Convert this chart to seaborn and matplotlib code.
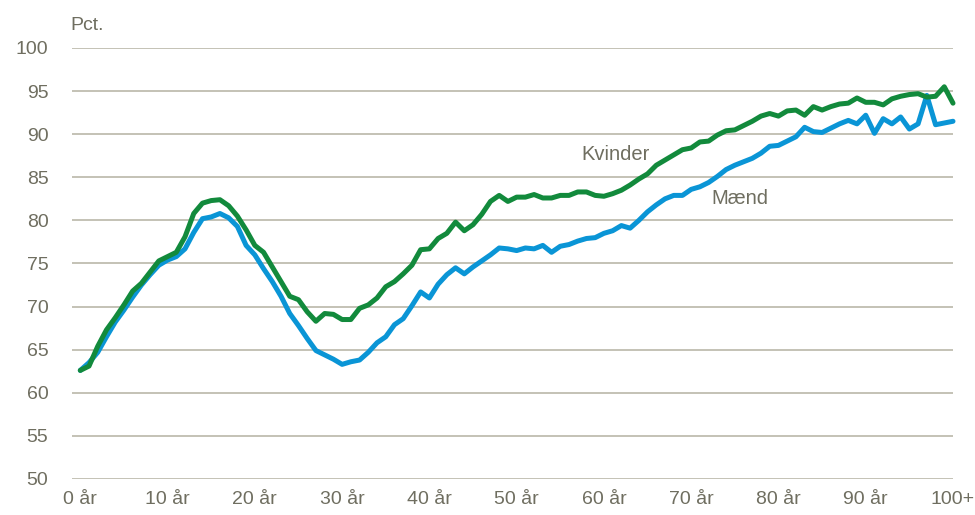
import numpy as np
import pandas as pd
import matplotlib
matplotlib.use("Agg")
import matplotlib.pyplot as plt
import seaborn as sns

# age groups 0..100 (last one is 100+)
ages = list(range(0, 101))
tick_ages = list(range(0, 101, 10))
tick_labels = ["0 år", "10 år", "20 år", "30 år", "40 år", "50 år",
               "60 år", "70 år", "80 år", "90 år", "100+"]

# share in pct.
kvinder = [62.6, 63.1, 65.4, 67.3, 68.7, 70.2, 71.8, 72.7, 74.0, 75.3,
           75.8, 76.3, 78.1, 80.8, 82.0, 82.3, 82.4, 81.7, 80.5, 78.9,
           77.1, 76.3, 74.6, 72.9, 71.2, 70.8, 69.4, 68.3, 69.2, 69.1,
           68.5, 68.5, 69.8, 70.2, 71.0, 72.3, 72.9, 73.8, 74.8, 76.6,
           76.7, 77.9, 78.5, 79.8, 78.8, 79.5, 80.7, 82.2, 82.9, 82.2,
           82.7, 82.7, 83.0, 82.6, 82.6, 82.9, 82.9, 83.3, 83.3, 82.9,
           82.8, 83.1, 83.5, 84.1, 84.8, 85.4, 86.4, 87.0, 87.6, 88.2,
           88.4, 89.1, 89.2, 89.9, 90.4, 90.5, 91.0, 91.5, 92.1, 92.4,
           92.1, 92.7, 92.8, 92.2, 93.2, 92.8, 93.2, 93.5, 93.6, 94.2,
           93.7, 93.7, 93.4, 94.1, 94.4, 94.6, 94.7, 94.3, 94.4, 95.5,
           93.6]
maend = [62.6, 63.5, 64.7, 66.5, 68.2, 69.6, 71.1, 72.5, 73.7, 74.8,
         75.4, 75.8, 76.7, 78.6, 80.2, 80.4, 80.8, 80.3, 79.3, 77.1,
         76.0, 74.4, 72.9, 71.2, 69.2, 67.8, 66.3, 64.9, 64.4, 63.9,
         63.3, 63.6, 63.8, 64.7, 65.8, 66.5, 67.9, 68.6, 70.1, 71.7,
         71.0, 72.6, 73.7, 74.5, 73.8, 74.6, 75.3, 76.0, 76.8, 76.7,
         76.5, 76.8, 76.7, 77.1, 76.3, 77.0, 77.2, 77.6, 77.9, 78.0,
         78.5, 78.8, 79.4, 79.1, 80.0, 81.0, 81.8, 82.5, 82.9, 82.9,
         83.6, 83.9, 84.4, 85.1, 85.9, 86.4, 86.8, 87.2, 87.8, 88.6,
         88.7, 89.2, 89.7, 90.8, 90.3, 90.2, 90.7, 91.2, 91.6, 91.2,
         92.2, 90.1, 91.8, 91.2, 92.0, 90.6, 91.2, 94.5, 91.1, 91.3,
         91.5]

df = pd.concat([
    pd.DataFrame({"alder": ages, "pct": maend, "koen": "Mænd"}),
    pd.DataFrame({"alder": ages, "pct": kvinder, "koen": "Kvinder"}),
])

grey = "#6f6e60"
sns.set_style("white")
plt.rcParams["font.family"] = ["Liberation Sans", "DejaVu Sans"]

fig = plt.figure(figsize=(9.75, 5.15), dpi=100)
ax = fig.add_axes([72 / 975, 1 - 479 / 515, (953 - 72) / 975, (479 - 48) / 515])

sns.lineplot(data=df, x="alder", y="pct", hue="koen",
             palette={"Mænd": "#0a95d6", "Kvinder": "#128a3c"},
             linewidth=3.6, legend=False, ax=ax, clip_on=False, zorder=3)

ax.set_xlim(-0.95, 100)
ax.set_ylim(50, 100)
ax.set_yticks(range(50, 101, 5))
ax.set_xticks(tick_ages)
ax.set_xticklabels(tick_labels)
ax.yaxis.grid(True, color="#c4c2b6", linewidth=1.4)
ax.xaxis.grid(False)
for s in ax.spines.values():
    s.set_visible(False)
ax.tick_params(axis="both", length=0, labelsize=14, labelcolor=grey)
ax.tick_params(axis="y", pad=17)
ax.tick_params(axis="x", pad=9)
ax.set_xlabel("")
ax.set_ylabel("")

ax.text(61.3, 87.6, "Kvinder", fontsize=14.5, color=grey, ha="center", va="center")
ax.text(75.6, 82.5, "Mænd", fontsize=14.5, color=grey, ha="center", va="center")
fig.text(70 / 975, 1 - 25 / 515, "Pct.", fontsize=14, color=grey, ha="left", va="center")

fig.savefig("out.png", dpi=100)
